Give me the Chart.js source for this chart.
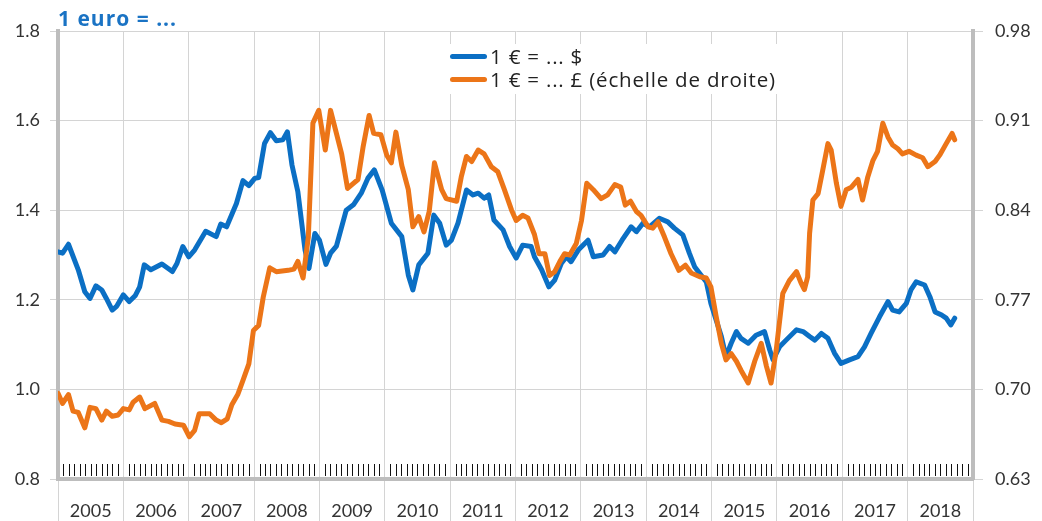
<!DOCTYPE html>
<html>
<head>
<meta charset="utf-8">
<script src="https://cdn.jsdelivr.net/npm/chart.js@4.4.1/dist/chart.umd.min.js"></script>
<style>
  body { margin: 0; background: #fff; font-family: Lato, 'Open Sans', sans-serif; }
  #wrap { position: relative; width: 1042px; height: 521px; }
  #title { position: absolute; left: 58px; top: 5px; font-family: 'Open Sans', sans-serif; font-size: 21px; line-height: 26px; letter-spacing: 1px; font-weight: bold; color: #1a73c4; }
  #legend { position: absolute; left: 444px; top: 44px; width: 340px; height: 50px; background: #fff; font-family: 'Open Sans', sans-serif; font-size: 20.5px; letter-spacing: 0.8px; color: #222; }
  .row { position: absolute; left: 6px; height: 23px; line-height: 23px; white-space: nowrap; }
  .swatch { display: inline-block; width: 37px; height: 5px; border-radius: 3px; vertical-align: middle; margin-right: 3px; position: relative; top: -2px; }
</style>
</head>
<body>
<div id="wrap">
  <canvas id="fxChart" width="1042" height="521"></canvas>
  <div id="title">1 euro = ...</div>
  <div id="legend">
    <div class="row" style="top:1px"><span class="swatch" style="background:#0b6fc4"></span>1 € = ... $</div>
    <div class="row" style="top:24px"><span class="swatch" style="background:#ec7518"></span>1 € = ... £ (échelle de droite)</div>
  </div>
</div>
<script>
// 1 euro en dollars (axe de gauche)
const usdDates = [2005.00, 2005.07, 2005.16, 2005.31, 2005.41, 2005.49, 2005.58, 2005.67, 2005.74, 2005.83, 2005.90,
  2006.00, 2006.09, 2006.18, 2006.25, 2006.32, 2006.42, 2006.59, 2006.75, 2006.82, 2006.91,
  2007.00, 2007.09, 2007.26, 2007.42, 2007.49, 2007.58, 2007.73, 2007.83, 2007.92,
  2008.01, 2008.07, 2008.16, 2008.25, 2008.34, 2008.44, 2008.51, 2008.58, 2008.67, 2008.78, 2008.84, 2008.93,
  2009.00, 2009.10, 2009.17, 2009.26, 2009.41, 2009.52, 2009.64, 2009.74, 2009.84, 2009.96,
  2010.10, 2010.26, 2010.36, 2010.43, 2010.52, 2010.66, 2010.75, 2010.84, 2010.94,
  2011.02, 2011.12, 2011.25, 2011.35, 2011.43, 2011.52, 2011.59, 2011.67, 2011.81, 2011.91,
  2012.01, 2012.11, 2012.24, 2012.29, 2012.40, 2012.51, 2012.60, 2012.70, 2012.78, 2012.85, 2012.96,
  2013.11, 2013.19, 2013.34, 2013.44, 2013.52, 2013.63, 2013.77, 2013.85, 2013.95,
  2014.05, 2014.20, 2014.33, 2014.43, 2014.56, 2014.66, 2014.74, 2014.84, 2014.92, 2014.99,
  2015.07, 2015.15, 2015.22, 2015.30, 2015.38, 2015.45, 2015.56, 2015.68, 2015.81, 2015.89, 2015.94,
  2016.04, 2016.14, 2016.30, 2016.40, 2016.50, 2016.58, 2016.68, 2016.78, 2016.88, 2016.98,
  2017.11, 2017.24, 2017.34, 2017.44, 2017.57, 2017.70, 2017.77, 2017.87, 2017.98,
  2018.05, 2018.13, 2018.26, 2018.34, 2018.42, 2018.52, 2018.59, 2018.66, 2018.72];
const usdRates = [1.307, 1.304, 1.324, 1.267, 1.218, 1.203, 1.231, 1.222, 1.203, 1.177, 1.186,
  1.211, 1.196, 1.209, 1.229, 1.278, 1.267, 1.280, 1.263, 1.281, 1.319,
  1.296, 1.311, 1.353, 1.341, 1.369, 1.363, 1.415, 1.466, 1.455,
  1.471, 1.473, 1.549, 1.573, 1.555, 1.557, 1.575, 1.501, 1.441, 1.311, 1.270, 1.348,
  1.333, 1.279, 1.304, 1.320, 1.400, 1.412, 1.438, 1.471, 1.490, 1.445,
  1.371, 1.341, 1.255, 1.222, 1.278, 1.304, 1.389, 1.371, 1.322,
  1.333, 1.371, 1.445, 1.434, 1.438, 1.427, 1.434, 1.378, 1.356, 1.319,
  1.293, 1.322, 1.319, 1.296, 1.267, 1.229, 1.244, 1.281, 1.296, 1.285, 1.311,
  1.333, 1.296, 1.300, 1.319, 1.307, 1.333, 1.363, 1.352, 1.371,
  1.363, 1.382, 1.374, 1.360, 1.345, 1.304, 1.274, 1.255, 1.240, 1.192,
  1.155, 1.118, 1.073, 1.103, 1.129, 1.114, 1.103, 1.121, 1.129, 1.088, 1.066,
  1.095, 1.110, 1.133, 1.129, 1.118, 1.110, 1.125, 1.114, 1.081, 1.058,
  1.066, 1.073, 1.095, 1.125, 1.162, 1.196, 1.177, 1.173, 1.192,
  1.222, 1.240, 1.233, 1.207, 1.173, 1.166, 1.159, 1.144, 1.159];

// 1 euro en livres (axe de droite)
const gbpDates = [2005.00, 2005.07, 2005.16, 2005.23, 2005.31, 2005.41, 2005.49, 2005.58, 2005.67, 2005.74, 2005.83, 2005.92,
  2006.00, 2006.09, 2006.15, 2006.25, 2006.33, 2006.48, 2006.59, 2006.69, 2006.79, 2006.92,
  2007.01, 2007.09, 2007.16, 2007.32, 2007.42, 2007.50, 2007.59, 2007.66, 2007.75, 2007.83, 2007.92, 2007.99,
  2008.07, 2008.14, 2008.24, 2008.34, 2008.52, 2008.61, 2008.67, 2008.75, 2008.83, 2008.90, 2008.99,
  2009.09, 2009.17, 2009.26, 2009.34, 2009.43, 2009.52, 2009.59, 2009.67, 2009.76, 2009.83, 2009.94,
  2010.03, 2010.10, 2010.17, 2010.26, 2010.36, 2010.43, 2010.52, 2010.60, 2010.68, 2010.76, 2010.87, 2010.94,
  2011.10, 2011.17, 2011.25, 2011.33, 2011.43, 2011.52, 2011.63, 2011.73, 2011.83, 2011.94,
  2012.01, 2012.11, 2012.19, 2012.29, 2012.36, 2012.45, 2012.52, 2012.60, 2012.68, 2012.75, 2012.83, 2012.93,
  2013.01, 2013.09, 2013.19, 2013.31, 2013.41, 2013.52, 2013.61, 2013.68, 2013.76, 2013.85, 2013.92,
  2014.03, 2014.10, 2014.18, 2014.28, 2014.38, 2014.50, 2014.60, 2014.69, 2014.82, 2014.92, 2014.99,
  2015.07, 2015.15, 2015.22, 2015.30, 2015.38, 2015.45, 2015.56, 2015.66, 2015.76, 2015.84, 2015.91, 2015.99,
  2016.09, 2016.19, 2016.30, 2016.37, 2016.42, 2016.47, 2016.50, 2016.55, 2016.63, 2016.70, 2016.78, 2016.83, 2016.91, 2016.98,
  2017.06, 2017.14, 2017.24, 2017.31, 2017.39, 2017.47, 2017.54, 2017.62, 2017.70, 2017.77, 2017.85, 2017.92,
  2018.02, 2018.13, 2018.23, 2018.31, 2018.42, 2018.49, 2018.59, 2018.68, 2018.72];
const gbpRates = [0.697, 0.689, 0.696, 0.683, 0.682, 0.670, 0.686, 0.685, 0.676, 0.683, 0.679, 0.680,
  0.685, 0.684, 0.690, 0.694, 0.685, 0.689, 0.676, 0.675, 0.673, 0.672,
  0.663, 0.668, 0.681, 0.681, 0.676, 0.674, 0.677, 0.688, 0.696, 0.707, 0.720, 0.746,
  0.750, 0.772, 0.795, 0.792, 0.793, 0.794, 0.800, 0.787, 0.819, 0.908, 0.918,
  0.887, 0.918, 0.900, 0.884, 0.857, 0.861, 0.864, 0.890, 0.914, 0.900, 0.899,
  0.883, 0.877, 0.901, 0.875, 0.856, 0.827, 0.835, 0.823, 0.839, 0.877, 0.856, 0.849,
  0.847, 0.866, 0.882, 0.878, 0.887, 0.884, 0.874, 0.870, 0.856, 0.840,
  0.832, 0.836, 0.834, 0.821, 0.806, 0.806, 0.789, 0.792, 0.800, 0.806, 0.805, 0.814,
  0.832, 0.861, 0.856, 0.849, 0.852, 0.860, 0.858, 0.844, 0.847, 0.839, 0.836,
  0.827, 0.826, 0.831, 0.819, 0.806, 0.793, 0.797, 0.791, 0.788, 0.787, 0.780,
  0.757, 0.736, 0.723, 0.728, 0.722, 0.715, 0.705, 0.722, 0.736, 0.718, 0.705, 0.731,
  0.775, 0.785, 0.792, 0.783, 0.778, 0.788, 0.822, 0.848, 0.853, 0.871, 0.892, 0.887, 0.861, 0.843,
  0.856, 0.858, 0.864, 0.848, 0.866, 0.879, 0.886, 0.908, 0.897, 0.891, 0.888, 0.884,
  0.886, 0.883, 0.881, 0.874, 0.878, 0.883, 0.892, 0.900, 0.895];

const firstYear = 2005;
const lastYear = 2019;

const BLUE = '#0b6fc4';
const ORANGE = '#ec7518';
const GRID = '#d4d4d4';
const AXIS = '#bdbdbd';
const tickFont = { family: 'Lato', size: 18 };

// petits traits mensuels en bas du graphique
const monthMarks = {
  id: 'monthMarks',
  beforeDatasetsDraw(chart) {
    const ctx = chart.ctx;
    const x = chart.scales.x;
    const bottom = chart.chartArea.bottom;
    ctx.save();
    ctx.strokeStyle = '#111';
    ctx.lineWidth = 1;
    ctx.beginPath();
    for (let yr = firstYear; yr < lastYear; yr++) {
      for (let m = 1; m < 12; m++) {
        const px = Math.round(x.getPixelForValue(yr + m / 12)) + 0.5;
        ctx.moveTo(px, bottom - 15);
        ctx.lineTo(px, bottom - 3);
      }
    }
    ctx.stroke();
    ctx.restore();
  }
};

const toPoints = (dates, vals) => dates.map((d, i) => ({ x: d, y: vals[i] }));

new Chart(document.getElementById('fxChart').getContext('2d'), {
  type: 'line',
  data: {
    datasets: [
      {
        label: '1 € = ... £ (échelle de droite)',
        data: toPoints(gbpDates, gbpRates),
        yAxisID: 'y2',
        borderColor: ORANGE,
        borderWidth: 5,
        borderJoinStyle: 'round',
        borderCapStyle: 'round',
        fill: false,
        tension: 0,
        pointRadius: 0
      },
      {
        label: '1 € = ... $',
        data: toPoints(usdDates, usdRates),
        yAxisID: 'y',
        borderColor: BLUE,
        borderWidth: 5,
        borderJoinStyle: 'round',
        borderCapStyle: 'round',
        fill: false,
        tension: 0,
        pointRadius: 0
      }
    ]
  },
  options: {
    responsive: false,
    animation: false,
    devicePixelRatio: 1,
    layout: { padding: { top: 31, left: 0, right: 0, bottom: 0 } },
    plugins: {
      legend: { display: false },
      tooltip: { enabled: false }
    },
    scales: {
      x: {
        type: 'linear',
        min: firstYear,
        max: lastYear,
        afterFit: (s) => { s.height = 42; },
        afterBuildTicks: (s) => {
          const t = [];
          for (let yr = firstYear; yr <= lastYear; yr++) t.push({ value: yr });
          s.ticks = t;
        },
        grid: { color: GRID, lineWidth: 1, tickLength: 42, tickColor: GRID },
        border: { display: true, color: AXIS, width: 4 },
        ticks: {
          font: tickFont,
          color: '#333',
          padding: -21,
          maxRotation: 0,
          autoSkip: false,
          labelOffset: 32.7,
          callback: (v) => (v < lastYear ? String(v) : '')
        }
      },
      y: {
        position: 'left',
        min: 0.8,
        max: 1.8,
        afterFit: (s) => { s.width = 58; },
        grid: { color: GRID, lineWidth: 1, tickLength: 8, tickColor: GRID },
        border: { display: true, color: AXIS, width: 4 },
        ticks: {
          stepSize: 0.2,
          font: tickFont,
          color: '#333',
          padding: 10,
          callback: (v) => v.toFixed(1)
        }
      },
      y2: {
        position: 'right',
        min: 0.63,
        max: 0.98,
        afterFit: (s) => { s.width = 69; },
        grid: { drawOnChartArea: false, tickLength: 10, tickColor: GRID },
        border: { display: true, color: AXIS, width: 4 },
        ticks: {
          stepSize: 0.07,
          font: tickFont,
          color: '#333',
          padding: 12,
          callback: (v) => v.toFixed(2)
        }
      }
    }
  },
  plugins: [monthMarks]
});
</script>
</body>
</html>
